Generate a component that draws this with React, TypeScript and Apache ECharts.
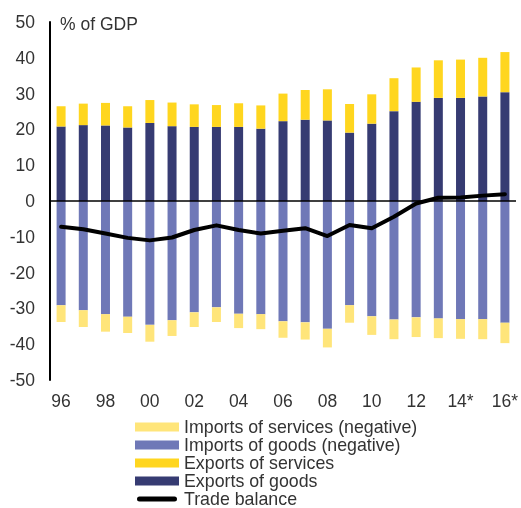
import React, { useEffect, useRef } from "react";
import * as echarts from "echarts";

const years = ["96", "97", "98", "99", "00", "01", "02", "03", "04", "05", "06", "07", "08", "09", "10", "11", "12", "13", "14*", "15*", "16*"];
const exportsGoods = [20.8, 21.2, 21.1, 20.5, 21.8, 20.9, 20.7, 20.7, 20.7, 20.2, 22.3, 22.7, 22.5, 19.1, 21.6, 25.1, 27.7, 28.8, 28.8, 29.2, 30.4];
const exportsServices = [5.7, 6.0, 6.3, 6.0, 6.4, 6.6, 6.3, 6.1, 6.6, 6.5, 7.7, 8.3, 8.7, 8.0, 8.2, 9.2, 9.6, 10.5, 10.7, 10.8, 11.2];
const importsGoods = [-29.1, -30.5, -31.6, -32.3, -34.6, -33.3, -31.1, -29.7, -31.5, -31.6, -33.6, -33.9, -35.7, -29.1, -32.2, -33.1, -32.5, -32.8, -33.0, -33.0, -34.0];
const importsServices = [-4.7, -4.7, -4.9, -4.6, -4.7, -4.4, -4.1, -4.1, -4.0, -4.2, -4.6, -4.8, -5.2, -4.9, -5.2, -5.5, -5.5, -5.5, -5.5, -5.6, -5.7];
const tradeBalance = [-7.2, -7.9, -9.1, -10.3, -11.0, -10.2, -8.1, -6.8, -8.1, -9.1, -8.3, -7.6, -9.8, -6.7, -7.6, -4.4, -0.7, 0.9, 1.0, 1.5, 1.9];
const yTicks = { min: -50, max: 50, interval: 10 };

const FONT = "Liberation Sans, Arial, sans-serif";
const TXT = "#333333";
const LINE_ICON = "path://M0,0 M44,9 M4.5,2 L39.5,2 A2.5,2.5 0 0 1 39.5,7 L4.5,7 A2.5,2.5 0 0 1 4.5,2 Z";

export default function App() {
  const ref = useRef<HTMLDivElement>(null);
  useEffect(() => {
    if (!ref.current) return;
    const chart = echarts.init(ref.current, undefined, { renderer: "svg" });
    chart.setOption({
      animation: false,
      textStyle: { fontFamily: FONT },
      grid: { left: 50, right: 3, top: 22, bottom: 128, containLabel: false },
      graphic: [
        {
          type: "text",
          left: 60,
          top: 15,
          style: { text: "% of GDP", fontSize: 17.5, fill: TXT, fontFamily: FONT },
        },
      ],
      legend: {
        orient: "vertical",
        left: 135,
        top: 418,
        width: 380,
        height: 100,
        padding: 0,
        itemWidth: 44,
        itemHeight: 9,
        itemGap: 0,
        textStyle: { fontSize: 17.8, color: TXT, fontFamily: FONT, lineHeight: 18, padding: [0, 0, 0, 0] },
        data: [
          { name: "Imports of services (negative)", icon: "rect" },
          { name: "Imports of goods (negative)", icon: "rect" },
          { name: "Exports of services", icon: "rect" },
          { name: "Exports of goods", icon: "rect" },
          { name: "Trade balance", icon: LINE_ICON, itemStyle: { color: "#000" } },
        ],
      },
      xAxis: {
        type: "category",
        data: years,
        axisLine: { show: false },
        axisTick: { show: false },
        axisLabel: {
          interval: 1,
          fontSize: 17.5,
          color: TXT,
          margin: 12,
          fontFamily: FONT,
          overflow: "none",
        },
      },
      yAxis: {
        type: "value",
        min: yTicks.min,
        max: yTicks.max,
        interval: yTicks.interval,
        axisLine: { show: true, lineStyle: { color: "#000", width: 2 } },
        axisTick: { show: false },
        splitLine: { show: false },
        axisLabel: { fontSize: 17.5, color: TXT, margin: 15, fontFamily: FONT },
      },
      series: [
        {
          name: "Exports of goods",
          type: "bar",
          stack: "t",
          data: exportsGoods,
          barWidth: 9,
          itemStyle: { color: "#363B72" },
        },
        {
          name: "Exports of services",
          type: "bar",
          stack: "t",
          data: exportsServices,
          barWidth: 9,
          itemStyle: { color: "#FFD61F" },
        },
        {
          name: "Imports of goods (negative)",
          type: "bar",
          stack: "t",
          data: importsGoods,
          barWidth: 9,
          itemStyle: { color: "#6F78B7" },
        },
        {
          name: "Imports of services (negative)",
          type: "bar",
          stack: "t",
          data: importsServices,
          barWidth: 9,
          itemStyle: { color: "#FFE57A" },
        },
        {
          name: "Trade balance",
          type: "line",
          data: tradeBalance,
          showSymbol: false,
          symbol: "none",
          lineStyle: { color: "#000", width: 4, cap: "round", join: "round" },
          itemStyle: { color: "#000" },
          z: 5,
          markLine: {
            silent: true,
            symbol: "none",
            label: { show: false },
            lineStyle: { color: "#000", width: 1.5, type: "solid" },
            data: [{ yAxis: 0 }],
            z: 4,
          },
        },
      ],
    });
    return () => chart.dispose();
  }, []);
  return <div ref={ref} style={{ position: "fixed", left: 0, top: 0, width: 521, height: 508 }} />;
}
